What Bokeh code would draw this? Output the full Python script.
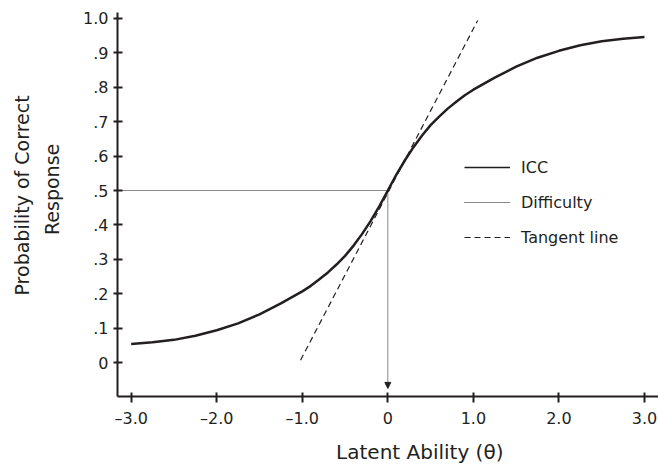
import math
from bokeh.plotting import figure
from bokeh.models import Range1d, FixedTicker, Legend, LegendItem, Arrow, NormalHead
from bokeh.embed import file_html
from bokeh.resources import INLINE

# ---- data ----
theta = [-3.00, -2.75, -2.50, -2.25, -2.00, -1.75, -1.50, -1.25, -1.00,
         -0.90, -0.80, -0.70, -0.60, -0.50, -0.40, -0.30, -0.20, -0.10,
         0.00, 0.10, 0.20, 0.30, 0.40, 0.50, 0.60, 0.70, 0.80, 0.90,
         1.00, 1.25, 1.50, 1.75, 2.00, 2.25, 2.50, 2.75, 3.00]
p_correct = [0.054, 0.059, 0.066, 0.078, 0.094, 0.114, 0.140, 0.172, 0.207,
             0.223, 0.242, 0.262, 0.285, 0.310, 0.340, 0.374, 0.412, 0.454,
             0.500, 0.546, 0.588, 0.626, 0.660, 0.690, 0.715, 0.738, 0.758, 0.777,
             0.793, 0.828, 0.860, 0.886, 0.906, 0.922, 0.934, 0.941, 0.946]
tangent_theta = [-1.02, 1.05]
tangent_p = [0.007, 0.994]
difficulty_b = 0.0
p_at_b = 0.5
arrow_tip_p = -0.075

x_ticks = [-3, -2, -1, 0, 1, 2, 3]
x_tick_labels = ["\u20133.0", "\u20132.0", "\u20131.0", "0", "1.0", "2.0", "3.0"]
y_ticks = [0.0, 0.1, 0.2, 0.3, 0.4, 0.5, 0.6, 0.7, 0.8, 0.9, 1.0]
y_tick_labels = ["0", ".1", ".2", ".3", ".4", ".5", ".6", ".7", ".8", ".9", "1.0"]

x_title = "Latent Ability (\u03b8)"
y_title_lines = ["Probability of Correct", "Response"]

FONT = "DejaVu Sans"
TEXT = "#231f20"
DOT = "#111111"
NB = "\u00a0"
NAN = float("nan")

X0, X1 = -3.16, 3.164
Y0, Y1 = -0.0986, 1.0174
p = figure(width=658, height=466, output_backend="svg", toolbar_location=None,
           x_range=Range1d(X0, X1), y_range=Range1d(Y0, Y1),
           min_border_left=117, min_border_right=0, min_border_top=12, min_border_bottom=69)
p.xgrid.visible = False
p.ygrid.visible = False
p.outline_line_color = None
p.background_fill_color = "white"

for ax in (p.xaxis[0], p.yaxis[0]):
    ax.axis_line_width = 2
    ax.axis_line_color = TEXT
    ax.major_tick_line_width = 2
    ax.major_tick_line_color = TEXT
    ax.minor_tick_line_color = None
    ax.major_label_text_font = FONT
    ax.major_label_text_font_size = "16px"
    ax.major_label_text_color = TEXT
    ax.axis_label_text_font = FONT
    ax.axis_label_text_font_style = "normal"
    ax.axis_label_text_color = TEXT

xa = p.xaxis[0]
xa.ticker = FixedTicker(ticks=x_ticks)
xa.major_label_overrides = {t: l for t, l in zip(x_ticks, x_tick_labels)}
xa.major_tick_in = 4
xa.major_tick_out = 6
xa.major_label_standoff = 6
xa.axis_label = NB * 10 + x_title
xa.axis_label_text_font_size = "20px"
xa.axis_label_standoff = 9

ya = p.yaxis[0]
ya.ticker = FixedTicker(ticks=y_ticks)
ya.major_label_overrides = {t: l for t, l in zip(y_ticks, y_tick_labels)}
ya.major_tick_in = 5
ya.major_tick_out = 4
ya.major_label_standoff = 5
ya.axis_label = NB * 3 + y_title_lines[0] + "\n" + NB * 5 + y_title_lines[1]
ya.axis_label_text_font_size = "19px"
ya.axis_label_text_line_height = 1.38
ya.axis_label_standoff = 17

icc = p.line(theta, p_correct, line_width=2.5, line_color=TEXT, line_join="round")
diff_h = p.line([X0, difficulty_b], [p_at_b, p_at_b], line_dash="1 1",
                line_width=1, line_color=DOT)
tang = p.line(tangent_theta, tangent_p, line_dash="6 4", line_width=1.2, line_color=TEXT)
# legend-only sample for the ICC (thinner stroke, as in the reference key)
icc_key = p.line(x=[NAN, NAN], y=[NAN, NAN], line_width=1.6, line_color=TEXT)

p.add_layout(Arrow(end=NormalHead(size=6, fill_color=TEXT, line_color=TEXT, line_width=1),
                   x_start=difficulty_b, y_start=p_at_b, x_end=difficulty_b, y_end=arrow_tip_p,
                   line_dash="1 1", line_width=1, line_color=DOT))

legend = Legend(items=[LegendItem(label="ICC", renderers=[icc_key]),
                       LegendItem(label="Difficulty", renderers=[diff_h]),
                       LegendItem(label="Tangent line", renderers=[tang])],
                location=(347, 149), padding=0, margin=0, spacing=15,
                glyph_width=46, glyph_height=20, label_height=20, label_standoff=11,
                border_line_color=None, background_fill_alpha=0,
                label_text_font=FONT, label_text_font_size="16px", label_text_color=TEXT)
p.add_layout(legend)

open("out.html", "w").write(file_html(p, INLINE))
